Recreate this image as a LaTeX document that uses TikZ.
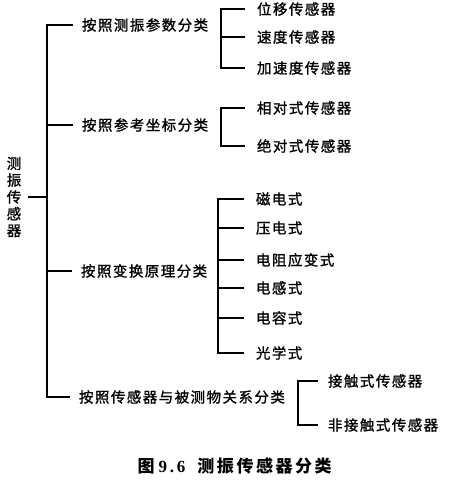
\documentclass[tikz,border=0pt]{standalone}
\usepackage{fontspec}
\setmainfont{Liberation Serif}
\newfontfamily\cjk[LetterSpace=10,FakeBold=1.2]{Noto Sans CJK SC}
\newfontfamily\cjkcap[LetterSpace=15]{Noto Sans CJK SC}
\begin{document}
\begin{tikzpicture}[x=1pt,y=1pt,
  line width=1.1pt,
  txt/.style={inner sep=0pt,font=\cjk\fontsize{14.5}{16}\selectfont},
  branch/.style={txt,anchor=west,outer xsep=9pt},
  leaf/.style={txt,anchor=west,outer xsep=12pt},
  rootlbl/.style={txt,align=center,font=\cjk\fontsize{14.5}{16.8}\selectfont,outer xsep=7pt}]
\useasboundingbox (0,0) rectangle (454,-483);
% root
\node[rootlbl] (root) at (14,-197) {测\\振\\传\\感\\器};
\coordinate (trunk) at (47,0);
% branches
\node[branch] (b1) at (73,-25) {按照测振参数分类};
\node[branch] (b2) at (73,-125) {按照参考坐标分类};
\node[branch] (b3) at (72,-271) {按照变换原理分类};
\node[branch] (b4) at (70,-397) {按照传感器与被测物关系分类};
\draw (root.east) -- (root.east -| trunk);
\draw (b1.west) -- (b1.west -| trunk) -- (b4.west -| trunk) -- (b4.west);
\draw (b2.west) -- (b2.west -| trunk);
\draw (b3.west) -- (b3.west -| trunk);
% group 1
\coordinate (g1) at (221,0);
\node[leaf] (l11) at (245,-9) {位移传感器};
\node[leaf] (l12) at (245,-37) {速度传感器};
\node[leaf] (l13) at (245,-68) {加速度传感器};
\draw (l11.west) -- (l11.west -| g1) -- (l13.west -| g1) -- (l13.west);
\draw (l12.west) -- (l12.west -| g1);
% group 2
\node[leaf] (l21) at (245,-108) {相对式传感器};
\node[leaf] (l22) at (245,-146) {绝对式传感器};
\draw (l21.west) -- (l21.west -| g1) -- (l22.west -| g1) -- (l22.west);
% group 3
\coordinate (g3) at (218,0);
\node[leaf] (l31) at (244,-199) {磁电式};
\node[leaf] (l32) at (244,-228) {压电式};
\node[leaf] (l33) at (244,-260) {电阻应变式};
\node[leaf] (l34) at (244,-288) {电感式};
\node[leaf] (l35) at (244,-318) {电容式};
\node[leaf] (l36) at (244,-353) {光学式};
\draw (l31.west) -- (l31.west -| g3) -- (l36.west -| g3) -- (l36.west);
\foreach \n in {l32,l33,l34,l35} \draw (\n.west) -- (\n.west -| g3);
% group 4
\coordinate (g4) at (298,0);
\node[leaf,outer xsep=10pt] (l41) at (318,-381) {接触式传感器};
\node[leaf,outer xsep=10pt] (l42) at (318,-425) {非接触式传感器};
\draw (l41.west) -- (l41.west -| g4) -- (l42.west -| g4) -- (l42.west);
% caption
\node[inner sep=0pt,anchor=west] (cap) at (137,-466)
  {\cjkcap\bfseries\fontsize{17}{19}\selectfont 图\hspace{4pt}{\rmfamily\bfseries 9\,.\,6}\hspace{12pt}测振传感器分类};
\end{tikzpicture}
\end{document}
